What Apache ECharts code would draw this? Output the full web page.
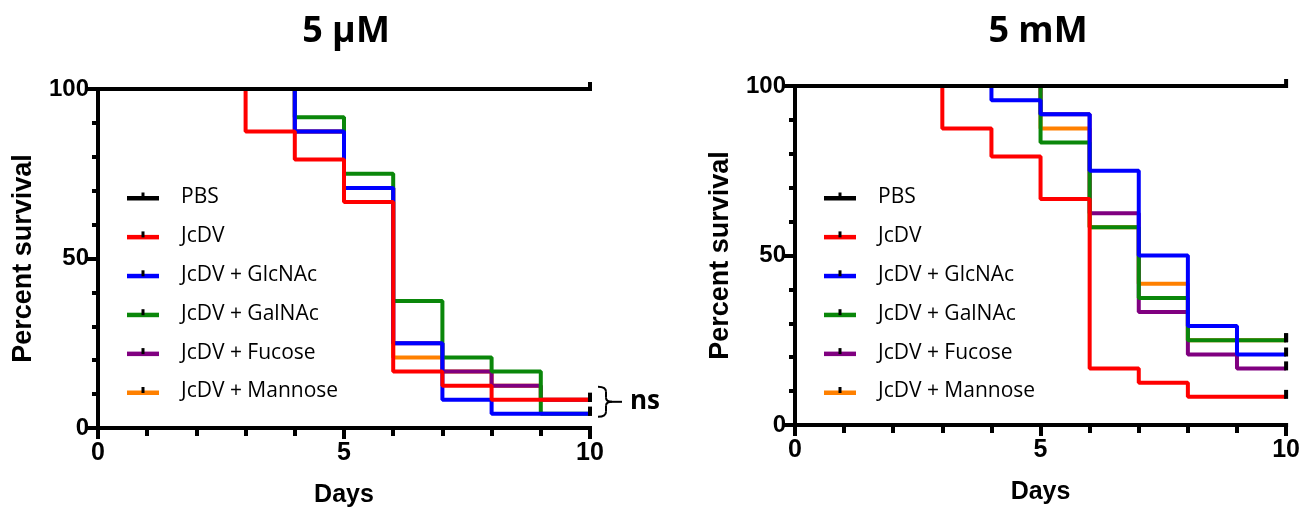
<!DOCTYPE html>
<html><head><meta charset="utf-8">
<script src="https://cdn.jsdelivr.net/npm/echarts@6/dist/echarts.min.js"></script>
<style>html,body{margin:0;padding:0;background:#fff}#c{width:1303px;height:515px}</style>
</head><body><div id="c"></div>
<script>
// ---- data ----
const days = [0, 1, 2, 3, 4, 5, 6, 7, 8, 9, 10];
const seriesNames = ['PBS', 'JcDV', 'JcDV + GlcNAc', 'JcDV + GalNAc', 'JcDV + Fucose', 'JcDV + Mannose'];
const seriesColors = ['#000000', '#ff0000', '#0000ff', '#0a870a', '#800080', '#ff8000'];
const panelTitles = ['5 µM', '5 mM'];
const xTickLabels = [0, 5, 10];
const yTickLabels = [0, 50, 100];

// survival (%) from each day onward, 5 µM
const uM_PBS      = [100, 100, 100, 100, 100, 100, 100, 100, 100, 100, 100];
const uM_JcDV     = [100, 100, 100, 87.5, 79.2, 66.7, 16.7, 12.5, 8.3, 8.3, 8.3];
const uM_GlcNAc   = [100, 100, 100, 100, 87.5, 70.8, 25, 8.3, 4.2, 4.2, 4.2];
const uM_GalNAc   = [100, 100, 100, 100, 91.7, 75, 37.5, 20.8, 16.7, 4.2, 4.2];
const uM_Fucose   = [100, 100, 100, 100, 87.5, 70.8, 25, 16.7, 12.5, 8.3, 8.3];
const uM_Mannose  = [100, 100, 100, 100, 87.5, 70.8, 20.8, 16.7, 12.5, 8.3, 8.3];

// survival (%) from each day onward, 5 mM
const mM_PBS      = [100, 100, 100, 100, 100, 100, 100, 100, 100, 100, 100];
const mM_JcDV     = [100, 100, 100, 87.5, 79.2, 66.7, 16.7, 12.5, 8.3, 8.3, 8.3];
const mM_GlcNAc   = [100, 100, 100, 100, 95.8, 91.7, 75, 50, 29.2, 20.8, 20.8];
const mM_GalNAc   = [100, 100, 100, 100, 100, 83.3, 58.3, 37.5, 25, 25, 25];
const mM_Fucose   = [100, 100, 100, 100, 100, 91.7, 62.5, 33.3, 20.8, 16.7, 16.7];
const mM_Mannose  = [100, 100, 100, 100, 100, 87.5, 58.3, 41.7, 25, 25, 25];

const panelData = [
  [uM_PBS, uM_JcDV, uM_GlcNAc, uM_GalNAc, uM_Fucose, uM_Mannose],
  [mM_PBS, mM_JcDV, mM_GlcNAc, mM_GalNAc, mM_Fucose, mM_Mannose]
];

// ---- layout ----
const grids = [
  { left: 98, top: 89, width: 492, height: 339 },
  { left: 795, top: 86, width: 492, height: 339 }
];
const titleCenters = [341, 1033];
const legendLeft = [127, 824];
const legendTop = 196;
const legendStep = 38.9;

const axisFont = 'Liberation Sans, Arial, sans-serif';
const textFont = 'Open Sans, Noto Sans, sans-serif';

const chart = echarts.init(document.getElementById('c'), null, { renderer: 'canvas' });

const xAxes = [], yAxes = [], series = [], titles = [], graphics = [];
grids.forEach((g, p) => {
  xAxes.push({
    type: 'value', gridIndex: p, min: 0, max: 10, interval: 5,
    axisLine: { show: true, onZero: false, lineStyle: { color: '#000', width: 4, cap: 'square' } },
    axisTick: { show: true, length: 11, lineStyle: { color: '#000', width: 4 } },
    minorTick: { show: true, splitNumber: 5, length: 8, lineStyle: { color: '#000', width: 4 } },
    splitLine: { show: false }, minorSplitLine: { show: false },
    axisLabel: { color: '#000', fontSize: 25, fontWeight: 'bold', fontFamily: axisFont, margin: 13,
      formatter: v => xTickLabels.includes(v) ? String(v) : '' },
    name: 'Days', nameLocation: 'middle', nameGap: 55,
    nameTextStyle: { color: '#000', fontSize: 25, fontWeight: 'bold', fontFamily: axisFont }
  });
  yAxes.push({
    type: 'value', gridIndex: p, min: 0, max: 100, interval: 50,
    axisLine: { show: true, onZero: false, lineStyle: { color: '#000', width: 4, cap: 'square' } },
    axisTick: { show: true, length: 11, lineStyle: { color: '#000', width: 4 } },
    minorTick: { show: true, splitNumber: 5, length: 6, lineStyle: { color: '#000', width: 4 } },
    splitLine: { show: false }, minorSplitLine: { show: false },
    axisLabel: { color: '#000', fontSize: 24, fontWeight: 'bold', fontFamily: axisFont, margin: 9,
      formatter: v => yTickLabels.includes(v) ? String(v) : '' },
    name: 'Percent survival', nameLocation: 'middle', nameGap: 61,
    nameTextStyle: { color: '#000', fontSize: 27, fontWeight: 'bold', fontFamily: axisFont }
  });
  titles.push({
    text: panelTitles[p], left: titleCenters[p], textAlign: 'center', top: 9,
    textStyle: { color: '#000', fontSize: 36, fontWeight: 'bold', fontFamily: textFont }
  });
  // draw order: last legend entry first, PBS on top
  for (let s = seriesNames.length - 1; s >= 0; s--) {
    const vals = panelData[p][s];
    series.push({
      type: 'line', name: seriesNames[s], xAxisIndex: p, yAxisIndex: p,
      step: 'end', symbol: 'none', showSymbol: true, clip: false,
      lineStyle: { color: seriesColors[s], width: 4 },
      itemStyle: { color: seriesColors[s] },
      emphasis: { disabled: true }, silent: true,
      data: days.map((d, i) => i === days.length - 1
        ? { value: [d, vals[i]], symbol: 'rect', symbolSize: [4, 9], symbolOffset: [0, -2.5], itemStyle: { color: '#000' } }
        : [d, vals[i]])
    });
  }
  // legend
  seriesNames.forEach((n, s) => {
    const cy = legendTop + s * legendStep;
    const lx = legendLeft[p];
    graphics.push({ type: 'rect', silent: true, shape: { x: lx, y: cy, width: 32, height: 4.5 }, style: { fill: seriesColors[s] } });
    graphics.push({ type: 'rect', silent: true, shape: { x: lx + 14.5, y: cy - 3.5, width: 3, height: 6 }, style: { fill: '#000' } });
    graphics.push({ type: 'text', silent: true, x: lx + 54, y: cy + 1,
      style: { text: n, fill: '#000', fontSize: 21, fontFamily: textFont, textAlign: 'left', textVerticalAlign: 'middle', align: 'left', verticalAlign: 'middle' } });
  });
});

chart.setOption({
  animation: false,
  backgroundColor: '#fff',
  title: titles,
  grid: grids,
  xAxis: xAxes,
  yAxis: yAxes,
  series: series,
  graphic: graphics
});

// "ns" bracket beside the day-10 ends of JcDV and JcDV + GlcNAc (5 µM)
const pTop = chart.convertToPixel({ gridIndex: 0 }, [10, uM_JcDV[uM_JcDV.length - 1]]);
const pBot = chart.convertToPixel({ gridIndex: 0 }, [10, uM_GlcNAc[uM_GlcNAc.length - 1]]);
const x0 = pTop[0] + 8, xm = x0 + 8, tip = xm + 6, tail = tip + 10;
const ty = pTop[1] - 13, by = pBot[1] + 3, my = (ty + by) / 2;
const br = { stroke: '#000', lineWidth: 2, fill: null };
graphics.push(
  { type: 'bezierCurve', silent: true, shape: { x1: x0, y1: ty, cpx1: xm, cpy1: ty, x2: xm, y2: ty + 5 }, style: br },
  { type: 'line', silent: true, shape: { x1: xm, y1: ty + 5, x2: xm, y2: my - 4 }, style: br },
  { type: 'bezierCurve', silent: true, shape: { x1: xm, y1: my - 4, cpx1: xm, cpy1: my, x2: tip, y2: my }, style: br },
  { type: 'line', silent: true, shape: { x1: tip, y1: my, x2: tail, y2: my }, style: br },
  { type: 'bezierCurve', silent: true, shape: { x1: tip, y1: my, cpx1: xm, cpy1: my, x2: xm, y2: my + 4 }, style: br },
  { type: 'line', silent: true, shape: { x1: xm, y1: my + 4, x2: xm, y2: by - 5 }, style: br },
  { type: 'bezierCurve', silent: true, shape: { x1: xm, y1: by - 5, cpx1: xm, cpy1: by, x2: x0, y2: by }, style: br },
  { type: 'text', silent: true, x: tail + 8, y: my,
    style: { text: 'ns', fill: '#000', fontSize: 26, fontWeight: 'bold', fontFamily: textFont, textAlign: 'left', textVerticalAlign: 'middle', align: 'left', verticalAlign: 'middle' } }
);
chart.setOption({ graphic: graphics });
</script>
</body></html>
